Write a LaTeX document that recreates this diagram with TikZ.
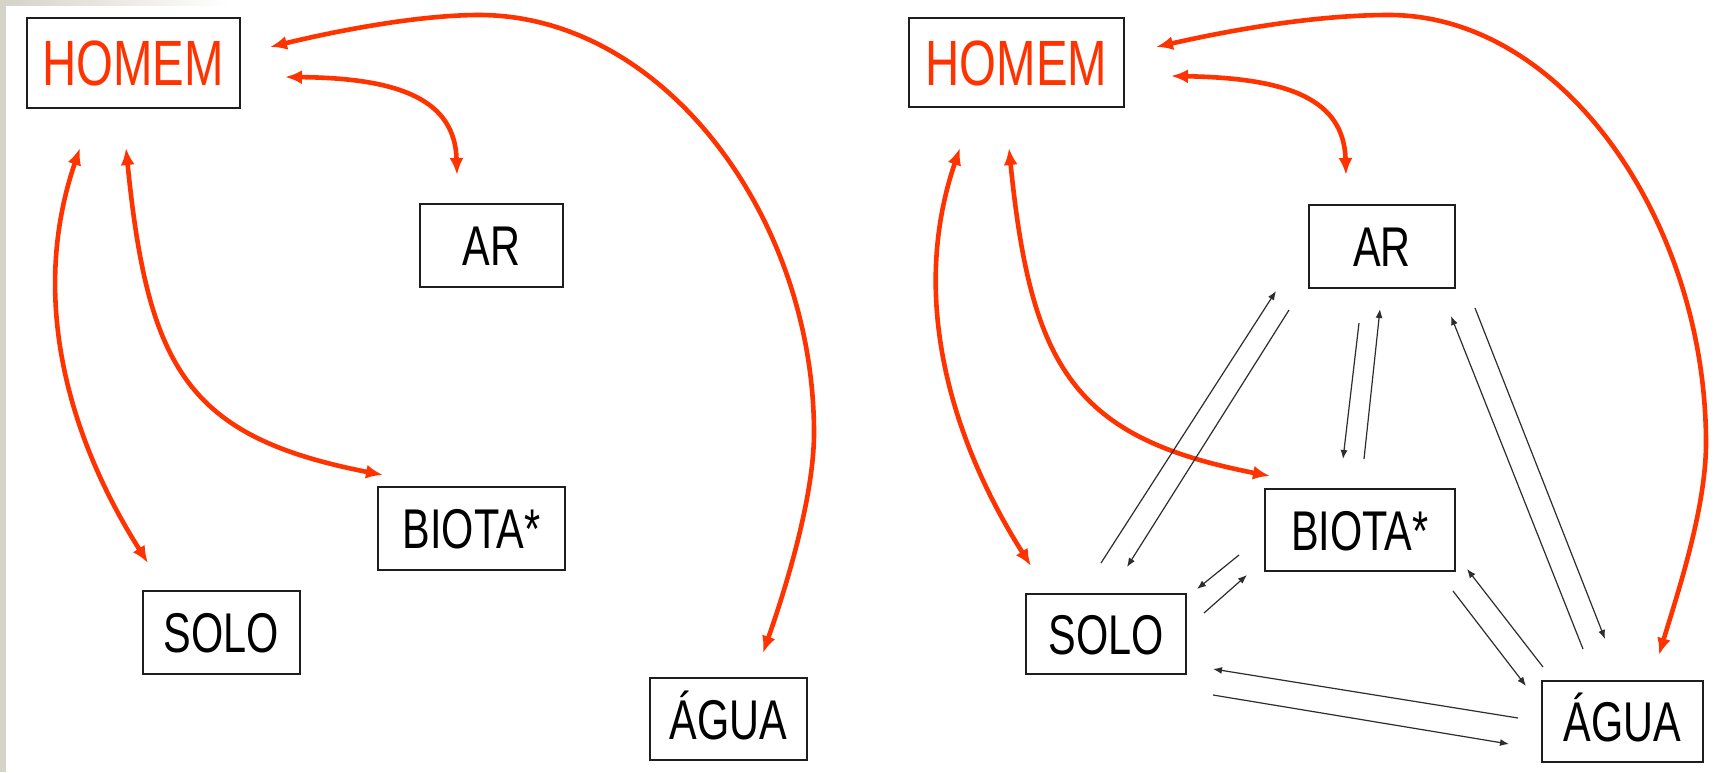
\documentclass[tikz,border=0pt]{standalone}
\usepackage{fontspec}
\setmainfont{Liberation Sans}
\usetikzlibrary{arrows.meta}
\definecolor{hred}{RGB}{255,51,0}
\definecolor{stripgray}{RGB}{214,211,201}
\definecolor{boxc}{RGB}{30,30,30}
\definecolor{thinc}{RGB}{45,45,45}
\newcommand{\nw}[1]{\scalebox{0.74}[1]{#1}}
\begin{document}
\begin{tikzpicture}[x=0.5pt,y=-0.5pt,
  box/.style={draw=boxc,line width=1pt,inner sep=0pt,text height=20pt,text depth=0pt,font=\fontsize{28}{30}\selectfont},
  hbox/.style={box,text=hred,text height=22.75pt,font=\fontsize{32}{34}\selectfont},
  redarr/.style={draw=hred,line width=2.3pt,{Latex[length=8.5pt,width=7pt]}-{Latex[length=8.5pt,width=7pt]}},
  thinarr/.style={draw=thinc,line width=0.6pt,-{Latex[length=4.5pt,width=3.5pt]}}]
\useasboundingbox (0,0) rectangle (1720,772);
\fill[white] (0,0) rectangle (1720,772);
\fill[stripgray] (0,0) rectangle (6,772);
\shade[left color=stripgray,right color=white] (6,0) rectangle (230,5);

% ---------- left panel ----------
\node[hbox,minimum width=106.5pt,minimum height=45pt] (homemL) at (133,63) {\nw{HOMEM}};
\node[box,minimum width=71.5pt,minimum height=41.5pt] (arL) at (491.5,245.5) {\nw{AR}};
\node[box,minimum width=93.5pt,minimum height=41.5pt] (biotaL) at (471.5,528.5) {\nw{BIOTA*}};
\node[box,minimum width=78.5pt,minimum height=41.5pt] (soloL) at (221.5,632.5) {\nw{SOLO}};
\node[box,minimum width=78.5pt,minimum height=41pt] (aguaL) at (728.5,719) {\nw{ÁGUA}};

\coordinate (hwL) at (270,47);  \coordinate (wL) at (763,653);
\coordinate (haL) at (285,77);  \coordinate (aL) at (457,175);
\coordinate (hbL) at (126,148); \coordinate (bL) at (383,475);
\coordinate (hsL) at (80,148);  \coordinate (sL) at (148,563);

\draw[redarr] (hwL) .. controls (340,30) and (420,15) .. (479,15)
  .. controls (664,15) and (814,218) .. (814,433)
  .. controls (814,500) and (783,596) .. (wL);
\draw[redarr] (haL) .. controls (400,78) and (455,100) .. (aL);
\draw[redarr] (hbL) .. controls (148,368) and (187,437) .. (bL);
\draw[redarr] (hsL) .. controls (28,300) and (70,440) .. (sL);

% ---------- right panel ----------
\node[hbox,minimum width=107.5pt,minimum height=44.5pt] (homemR) at (1016.5,62.5) {\nw{HOMEM}};
\node[box,minimum width=73pt,minimum height=41.5pt] (arR) at (1382,246.5) {\nw{AR}};
\node[box,minimum width=95pt,minimum height=41pt] (biotaR) at (1360,530) {\nw{BIOTA*}};
\node[box,minimum width=80pt,minimum height=40pt] (soloR) at (1106,634) {\nw{SOLO}};
\node[box,minimum width=80.5pt,minimum height=40.5pt] (aguaR) at (1622.5,721.5) {\nw{ÁGUA}};

\coordinate (hwR) at (1156,47);  \coordinate (wR) at (1659,655);
\coordinate (haR) at (1171,76);  \coordinate (aR) at (1346,175);
\coordinate (hbR) at (1009,148); \coordinate (bR) at (1270,476);
\coordinate (hsR) at (960,148);  \coordinate (sR) at (1031,566);

\draw[redarr] (hwR) .. controls (1240,28) and (1320,15) .. (1389,15)
  .. controls (1564,15) and (1706,223) .. (1706,443)
  .. controls (1706,510) and (1676,598) .. (wR);
\draw[redarr] (haR) .. controls (1290,78) and (1344,100) .. (aR);
\draw[redarr] (hbR) .. controls (1031,368) and (1074,438) .. (bR);
\draw[redarr] (hsR) .. controls (908,300) and (953,443) .. (sR);

% thin exchange arrows
\coordinate (sa1) at (1101,563); \coordinate (sa2) at (1276,291);
\coordinate (as1) at (1289,310); \coordinate (as2) at (1127,567);
\coordinate (ab1) at (1359,323); \coordinate (ab2) at (1343,459);
\coordinate (ba1) at (1364,459); \coordinate (ba2) at (1380,309);
\coordinate (wa1) at (1583,649); \coordinate (wa2) at (1451,316);
\coordinate (aw1) at (1475,308); \coordinate (aw2) at (1605,639);
\coordinate (bs1) at (1239,555); \coordinate (bs2) at (1197,589);
\coordinate (sb1) at (1204,613); \coordinate (sb2) at (1247,575);
\coordinate (wb1) at (1543,667); \coordinate (wb2) at (1467,569);
\coordinate (bw1) at (1453,591); \coordinate (bw2) at (1526,686);
\coordinate (ws1) at (1518,718); \coordinate (ws2) at (1213,669);
\coordinate (sw1) at (1213,695); \coordinate (sw2) at (1509,744);

\draw[thinarr] (sa1) -- (sa2);
\draw[thinarr] (as1) -- (as2);
\draw[thinarr] (ab1) -- (ab2);
\draw[thinarr] (ba1) -- (ba2);
\draw[thinarr] (wa1) -- (wa2);
\draw[thinarr] (aw1) -- (aw2);
\draw[thinarr] (bs1) -- (bs2);
\draw[thinarr] (sb1) -- (sb2);
\draw[thinarr] (wb1) -- (wb2);
\draw[thinarr] (bw1) -- (bw2);
\draw[thinarr] (ws1) -- (ws2);
\draw[thinarr] (sw1) -- (sw2);
\end{tikzpicture}
\end{document}
